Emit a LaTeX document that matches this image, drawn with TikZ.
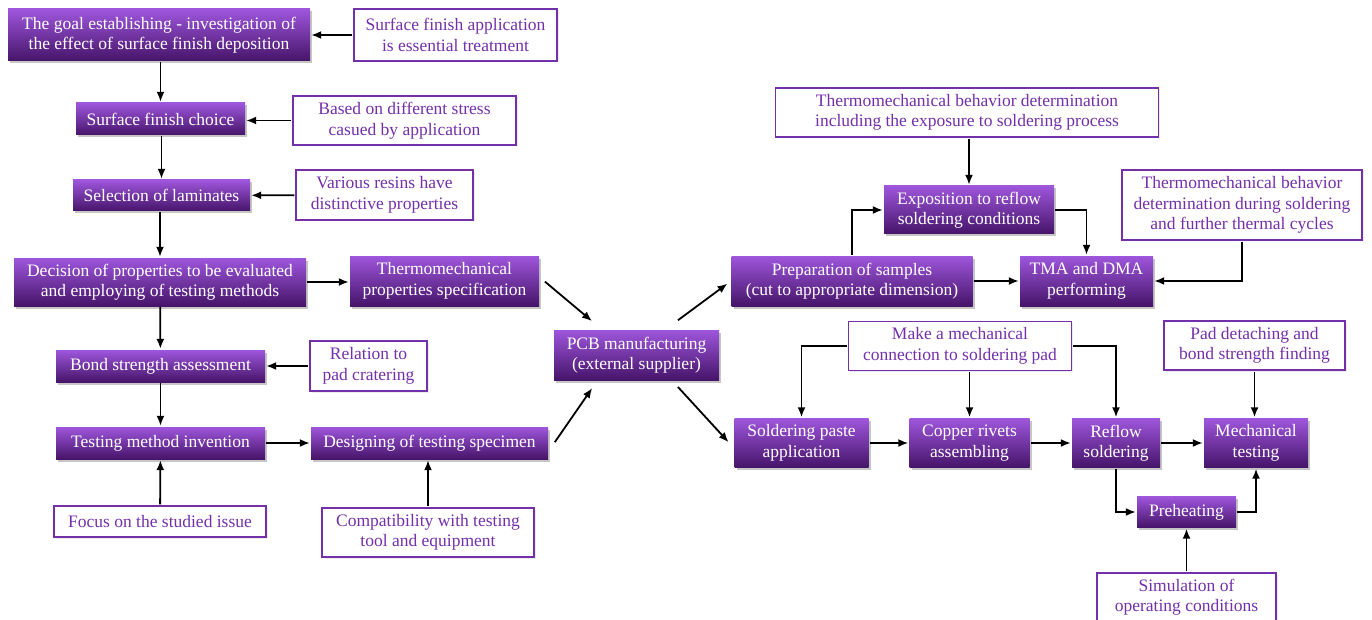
\documentclass[tikz,border=0pt]{standalone}
\usepackage{fontspec}
\setmainfont{Liberation Serif}
\definecolor{color1}{RGB}{158, 86, 220}
\definecolor{color2}{RGB}{119, 44, 187}
\definecolor{color3}{RGB}{70, 20, 105}
\definecolor{color4}{RGB}{116, 48, 170}
\usetikzlibrary{arrows.meta,shadows,calc}

\begin{document}
\begin{tikzpicture}[x=1pt, y=-1pt, font=\fontsize{17.5}{20.5}\selectfont,
		box/.style={top color=color1, middle color=color2, bottom color=color3, text=white, align=center, inner sep=2pt,
			drop shadow={shadow xshift=2pt, shadow yshift=-2.5pt, opacity=0.45}},
		note/.style={draw=color4, line width=1.1pt, fill=white, text=color4, align=center, inner sep=2pt,
			drop shadow={shadow xshift=1.5pt, shadow yshift=-1.5pt, opacity=0.15}},
		arr/.style={-{Latex[length=10pt, width=8pt]}, line width=1.8pt, shorten <=1pt, shorten >=1pt}]
		\useasboundingbox (0,0) rectangle (1372,620);
		% left column
		\node[box, minimum width=302pt, minimum height=52pt] (goal) at (159,35) {The goal establishing - investigation of\\the effect of surface finish deposition};
		\node[box, minimum width=169pt, minimum height=32pt] (sfchoice) at (160.5,119) {Surface finish choice};
		\node[box, minimum width=177pt, minimum height=31pt] (laminates) at (161.5,195.5) {Selection of laminates};
		\node[box, minimum width=292pt, minimum height=48pt] (decision) at (160,282) {Decision of properties to be evaluated\\and employing of testing methods};
		\node[box, minimum width=209pt, minimum height=32pt] (bond) at (160.5,366) {Bond strength assessment};
		\node[box, minimum width=209pt, minimum height=32pt] (method) at (160.5,443) {Testing method invention};
		\node[box, minimum width=189pt, minimum height=50pt] (spec) at (444.5,281) {Thermomechanical\\properties specification};
		\node[box, minimum width=237pt, minimum height=32pt] (design) at (429.5,443) {Designing of testing specimen};
		\node[box, minimum width=165pt, minimum height=50pt] (pcb) at (636.5,355) {PCB manufacturing\\(external supplier)};
		% notes on the left
		\node[note, minimum width=203pt, minimum height=52pt] (essential) at (455.5,35) {Surface finish application\\is essential treatment};
		\node[note, minimum width=223pt, minimum height=49pt] (stress) at (404.5,120.5) {Based on different stress\\casued by application};
		\node[note, minimum width=177pt, minimum height=50pt] (resins) at (384.5,195) {Various resins have\\distinctive properties};
		\node[note, minimum width=117pt, minimum height=50pt] (crater) at (368.5,366) {Relation to\\pad cratering};
		\node[note, minimum width=212pt, minimum height=31pt] (focus) at (160,521.5) {Focus on the studied issue};
		\node[note, minimum width=212pt, minimum height=49pt] (compat) at (428,532.5) {Compatibility with testing\\tool and equipment};
		% thermomechanical branch
		\node[box, minimum width=170pt, minimum height=48pt] (expo) at (969,210) {Exposition to reflow\\soldering conditions};
		\node[box, minimum width=241pt, minimum height=50pt] (prep) at (852,281) {Preparation of samples\\(cut to appropriate dimension)};
		\node[box, minimum width=133pt, minimum height=50pt] (tma) at (1086.5,281) {TMA and DMA\\performing};
		\node[note, minimum width=383pt, minimum height=49pt] (expnote) at (967,112.5) {Thermomechanical behavior determination\\including the exposure to soldering process};
		\node[note, minimum width=240pt, minimum height=70pt] (cyclenote) at (1242,205) {Thermomechanical behavior\\determination during soldering\\and further thermal cycles};
		% mechanical branch
		\node[box, minimum width=134pt, minimum height=49pt] (paste) at (801.5,443) {Soldering paste\\application};
		\node[box, minimum width=120pt, minimum height=49pt] (rivets) at (969.5,443) {Copper rivets\\assembling};
		\node[box, minimum width=88pt, minimum height=49pt] (reflow) at (1116,443) {Reflow\\soldering};
		\node[box, minimum width=104pt, minimum height=49pt] (mech) at (1256,443) {Mechanical\\testing};
		\node[box, minimum width=99pt, minimum height=31pt] (preheat) at (1186.5,512) {Preheating};
		\node[note, minimum width=223pt, minimum height=49pt] (connect) at (960,346) {Make a mechanical\\connection to soldering pad};
		\node[note, minimum width=181pt, minimum height=49pt] (detach) at (1254.5,345.5) {Pad detaching and\\bond strength finding};
		\node[note, minimum width=179pt, minimum height=48pt] (simul) at (1186.5,597) {Simulation of\\operating conditions};

		% arrows, left part
		\draw[arr] (essential) -- (goal);
		\draw[arr] (goal.south -| sfchoice.north) -- (sfchoice);
		\draw[arr] (stress.west) -- (stress.west -| sfchoice.east);
		\draw[arr] (sfchoice.south -| laminates.north) -- (laminates);
		\draw[arr] (resins) -- (laminates);
		\draw[arr] (laminates.south -| decision.north) -- (decision);
		\draw[arr] (decision.east) -- (decision.east -| spec.west);
		\draw[arr] (decision) -- (bond);
		\draw[arr] (crater) -- (bond);
		\draw[arr] (bond) -- (method);
		\draw[arr] (method) -- (design.west |- method.east);
		\draw[arr] (focus) -- (method);
		\draw[arr] (compat.north) -- (compat.north |- design.south);
		\draw[arr] ($(spec.east)+(5,0)$) -- ($(pcb.north west)+(39,-8)$);
		\draw[arr] ($(design.east)+(6,0)$) -- ($(pcb.south west)+(39,7)$);
		% arrows, right part
		\draw[arr] ($(pcb.north east)+(-42,-9)$) -- ($(prep.west)+(-3,2)$);
		\draw[arr] ($(pcb.south east)+(-42,6)$) -- ($(paste.west)+(-5,0)$);
		\draw[arr] (prep.north) |- (expo.west);
		\draw[arr] (expo.east) -| (tma.north);
		\draw[arr] (expnote.south -| expo.north) -- (expo.north);
		\draw[arr] (cyclenote.south) |- (tma.east);
		\draw[arr] (prep) -- (tma);
		\draw[arr] (connect.west) -| (paste.north);
		\draw[arr] (connect.south -| rivets.north) -- (rivets.north);
		\draw[arr] (connect.east) -| (reflow.north);
		\draw[arr] (detach.south) -- (detach.south |- mech.north);
		\draw[arr] (paste) -- (rivets);
		\draw[arr] (rivets) -- (reflow);
		\draw[arr] (reflow) -- (mech);
		\draw[arr] (reflow.south) |- (preheat.west);
		\draw[arr] (preheat.east) -| (mech.south);
		\draw[arr] (simul.north) -- (preheat.south);
	\end{tikzpicture}
\end{document}
